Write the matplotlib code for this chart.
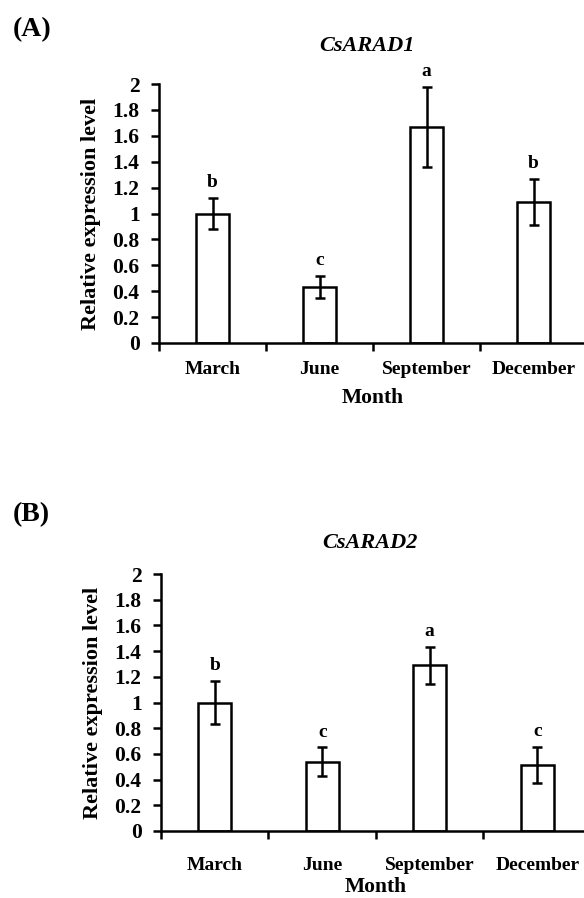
import matplotlib
matplotlib.use("Agg")
import matplotlib.pyplot as plt
import numpy as np

months = ["March", "June", "September", "December"]
a_vals = [1.00, 0.43, 1.67, 1.09]
a_err = [0.12, 0.085, 0.31, 0.18]
a_letters = ["b", "c", "a", "b"]
b_vals = [1.00, 0.54, 1.29, 0.515]
b_err = [0.165, 0.11, 0.145, 0.14]
b_letters = ["b", "c", "a", "c"]
yticks = [0, 0.2, 0.4, 0.6, 0.8, 1.0, 1.2, 1.4, 1.6, 1.8, 2.0]
ytick_labels = ["0", "0.2", "0.4", "0.6", "0.8", "1", "1.2", "1.4", "1.6", "1.8", "2"]

plt.rcParams['font.family'] = ['Liberation Serif', 'DejaVu Serif']
plt.rcParams['font.weight'] = 'bold'

fig = plt.figure(figsize=(5.84, 8.98), dpi=100)

def panel(rect, vals, errs, letters, title, tag, tag_y, title_y, xlab_pad, month_y):
    ax = fig.add_axes(rect)
    x = np.arange(1, len(months) + 1)
    ax.bar(x, vals, width=0.31, color='white', edgecolor='black', linewidth=1.8, zorder=2)
    ax.errorbar(x, vals, yerr=errs, fmt='none', ecolor='black', elinewidth=1.8,
                capsize=3.5, capthick=1.8, zorder=3)
    for xi, v, e, l in zip(x, vals, errs, letters):
        ax.annotate(l, (xi, v + e), xytext=(0, 5), textcoords='offset points',
                    ha='center', va='bottom', fontsize=14, fontweight='bold')
    ax.set_xlim(0.5, 4.5)
    ax.set_ylim(0, 2)
    ax.set_yticks(yticks)
    ax.set_yticklabels(ytick_labels)
    ax.set_xticks(x)
    ax.set_xticklabels(months)
    ax.set_xticks(np.arange(0.5, 4.6, 1.0), minor=True)
    ax.tick_params(axis='x', which='major', length=0, pad=xlab_pad, labelsize=14)
    ax.tick_params(axis='x', which='minor', length=6, width=1.8, direction='out')
    ax.tick_params(axis='y', length=6, width=1.8, direction='out', labelsize=15.5, pad=8)
    for s in ['top', 'right']:
        ax.spines[s].set_visible(False)
    for s in ['left', 'bottom']:
        ax.spines[s].set_linewidth(1.8)
    ax.set_ylabel("Relative expression level", fontsize=16, fontweight='bold')
    ax.yaxis.set_label_coords(-0.135, 0.5)
    ax.set_xlabel("Month", fontsize=15.5, fontweight='bold')
    ax.xaxis.set_label_coords(0.5, month_y)
    fig.text(0.5 * (rect[0] + rect[0] + rect[2]) - 0.01, title_y, title, ha='center', va='center',
             fontsize=16, fontweight='bold', style='italic')
    fig.text(0.022, tag_y, tag, ha='left', va='center', fontsize=20, fontweight='bold')
    return ax

panel([159/584, 555/898, 428/584, 259/898], a_vals, a_err, a_letters,
      "CsARAD1", "(A)", 1 - 30/898, 1 - 46/898, 13, -0.172)
panel([161/584, 67/898, 430/584, 257/898], b_vals, b_err, b_letters,
      "CsARAD2", "(B)", 1 - 515/898, 1 - 543/898, 19, -0.18)

fig.savefig("out.png", dpi=100)
